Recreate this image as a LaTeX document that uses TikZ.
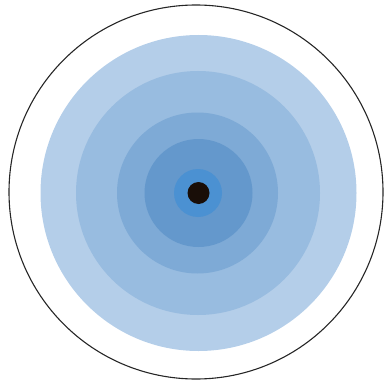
\documentclass[tikz,border=0pt]{standalone}
\definecolor{ringA}{RGB}{180,206,233}
\definecolor{ringB}{RGB}{152,188,224}
\definecolor{ringC}{RGB}{126,170,214}
\definecolor{ringD}{RGB}{100,152,204}
\definecolor{ringE}{RGB}{75,145,210}
\definecolor{dotc}{RGB}{25,14,8}
\begin{document}
\begin{tikzpicture}[x=1pt,y=1pt,
  ring/.style={circle,inner sep=0pt,draw=none}]
\useasboundingbox (0,0) rectangle (385,381);
\node[circle,inner sep=0pt,minimum size=374pt,draw=black!85,line width=1.1pt] (outer) at (196,189) {};
\node[ring,fill=ringA,minimum size=316pt] (r1) at (198.5,188) {};
\node[ring,fill=ringB,minimum size=244pt] (r2) at (198,188) {};
\node[ring,fill=ringC,minimum size=161pt] (r3) at (197.5,188) {};
\node[ring,fill=ringD,minimum size=108pt] (r4) at (198.5,188) {};
\node[ring,fill=ringE,minimum size=48pt] (r5) at (198,188) {};
\node[ring,fill=dotc,minimum size=22pt] (dot) at (198.5,188) {};
\end{tikzpicture}
\end{document}
